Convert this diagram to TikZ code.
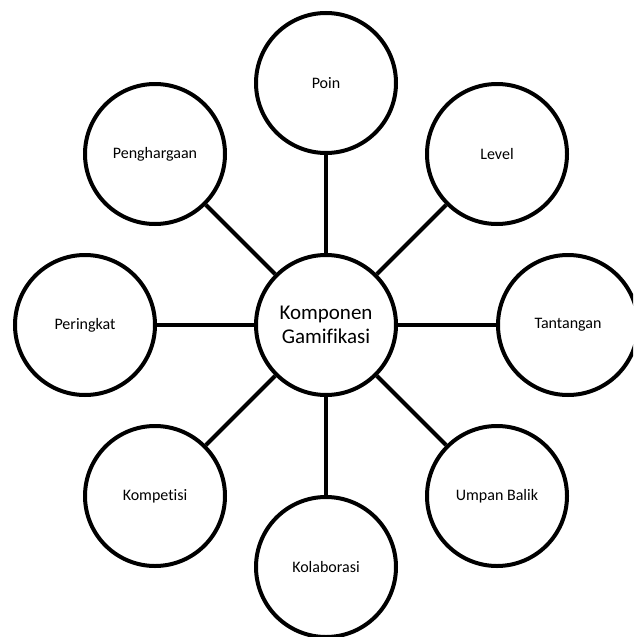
\documentclass[tikz,border=0pt]{standalone}
\usepackage{fontspec}
\setmainfont{Carlito}[Ligatures=NoCommon]
\begin{document}
\begin{tikzpicture}[x=1pt,y=-1pt,
  bubble/.style={circle,draw=black,line width=4pt,minimum size=140pt,inner sep=0pt,fill=white,font=\fontsize{16}{19}\selectfont,text=black},
  hub/.style={bubble,font=\fontsize{21}{23.5}\selectfont,align=center},
  link/.style={line width=4pt,draw=black}]
\useasboundingbox (0,0) rectangle (633,637);
\clip (0,0) rectangle (633,637);
\node[hub] (c) at (326,325) {Komponen\\Gamifikasi};
\node[bubble] (poin) at (326,83) {Poin};
\node[bubble] (level) at (497,154) {Level};
\node[bubble] (tant) at (568,325) {Tantangan};
\node[bubble] (umpan) at (497,496) {Umpan Balik};
\node[bubble] (kolab) at (326,567) {Kolaborasi};
\node[bubble] (komp) at (155,496) {Kompetisi};
\node[bubble] (pering) at (85,325) {Peringkat};
\node[bubble] (peng) at (155,154) {Penghargaan};
\foreach \n in {poin,level,tant,umpan,kolab,komp,pering,peng}
  \draw[link] (c) -- (\n);
\end{tikzpicture}
\end{document}
